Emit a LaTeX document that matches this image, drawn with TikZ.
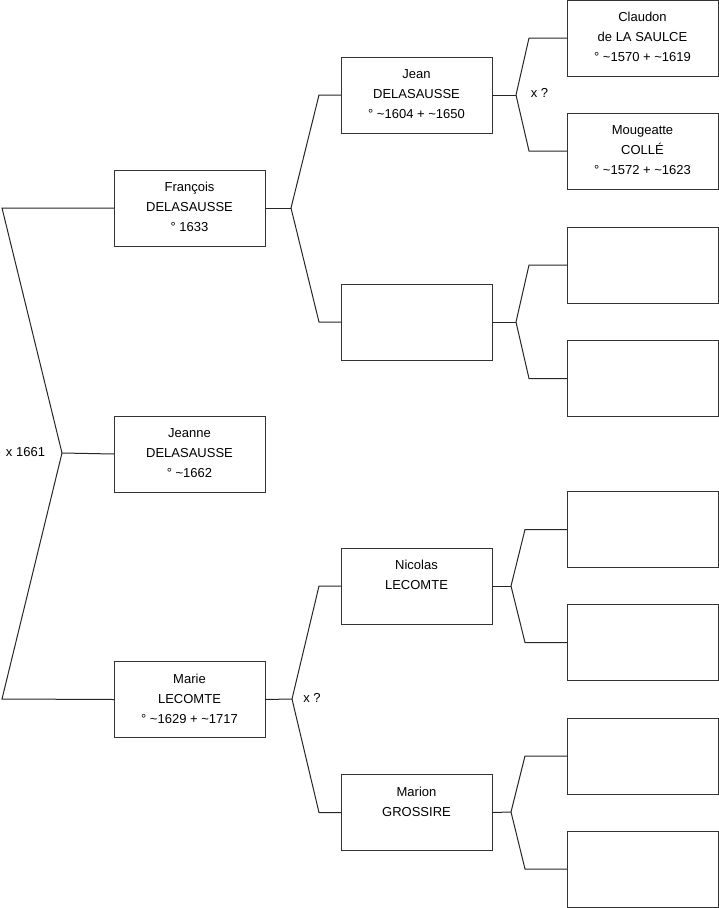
\documentclass[tikz,border=0pt]{standalone}
\usepackage{fontspec}
\setmainfont{Liberation Sans}
\begin{document}
\begin{tikzpicture}[x=1pt,y=-1pt,
  person/.style={draw=black!80, line width=1pt, minimum width=151pt, minimum height=76pt, inner sep=0pt, outer sep=0pt},
  ptext/.style={anchor=base, align=center, inner sep=0pt, font=\fontsize{13}{20}\selectfont},
  link/.style={draw=black!85, line width=1pt},
  lbl/.style={font=\fontsize{13}{16}\selectfont, inner sep=0pt}]
\useasboundingbox (0,0) rectangle (719,908);

% generation 1
\node[person] (fran) at (189.5,208) {};
\node[person] (jeanne) at (189.5,454) {};
\node[person] (marie) at (189.5,699.5) {};
% generation 2
\node[person] (jean) at (416.5,95) {};
\node[person] (blankp) at (416.5,322) {};
\node[person] (nicolas) at (416.5,586) {};
\node[person] (marion) at (416.5,812.5) {};
% generation 3
\node[person] (c1) at (642.5,38) {};
\node[person] (c2) at (642.5,151) {};
\node[person] (c3) at (642.5,265) {};
\node[person] (c4) at (642.5,378.5) {};
\node[person] (c5) at (642.5,529.5) {};
\node[person] (c6) at (642.5,642.5) {};
\node[person] (c7) at (642.5,756) {};
\node[person] (c8) at (642.5,869) {};

% texts (anchor = baseline of last line)
\node[ptext] (franT) at ([yshift=-61.5pt]fran.north) {François\\DELASAUSSE\\° 1633};
\node[ptext] (jeanneT) at ([yshift=-61.5pt]jeanne.north) {Jeanne\\DELASAUSSE\\° \textasciitilde1662};
\node[ptext] (marieT) at ([yshift=-61.5pt]marie.north) {Marie\\LECOMTE\\° \textasciitilde1629 + \textasciitilde1717};
\node[ptext] (jeanT) at ([yshift=-61.5pt]jean.north) {Jean\\DELASAUSSE\\° \textasciitilde1604 + \textasciitilde1650};
\node[ptext] (nicolasT) at ([yshift=-41.5pt]nicolas.north) {Nicolas\\LECOMTE};
\node[ptext] (marionT) at ([yshift=-41.5pt]marion.north) {Marion\\GROSSIRE};
\node[ptext] (c1T) at ([yshift=-61.5pt]c1.north) {Claudon\\de LA SAULCE\\° \textasciitilde1570 + \textasciitilde1619};
\node[ptext] (c2T) at ([yshift=-61.5pt]c2.north) {Mougeatte\\COLLÉ\\° \textasciitilde1572 + \textasciitilde1623};

% fork points
\coordinate (k0) at (62,453);
\coordinate (e0a) at (2,208);
\coordinate (e0b) at (2,699);
\coordinate (f1) at (291,208);
\coordinate (f2) at (292,699);
\coordinate (g1) at (516,95);
\coordinate (g2) at (516,322);
\coordinate (g3) at (511,586);
\coordinate (g4) at (511,812);

% connectors
\draw[link] (jeanne.west) -- (k0);
\draw[link] (k0) -- (e0a) -- (fran.west);
\draw[link] (k0) -- (e0b) -- (marie.west);

\draw[link] (fran.east) -- (f1);
\draw[link] (f1) -- ([xshift=-22pt]jean.west) -- (jean.west);
\draw[link] (f1) -- ([xshift=-22pt]blankp.west) -- (blankp.west);
\draw[link] (marie.east) -- (f2);
\draw[link] (f2) -- ([xshift=-22pt]nicolas.west) -- (nicolas.west);
\draw[link] (f2) -- ([xshift=-22pt]marion.west) -- (marion.west);

\draw[link] (jean.east) -- (g1);
\draw[link] (g1) -- ([xshift=-38pt]c1.west) -- (c1.west);
\draw[link] (g1) -- ([xshift=-38pt]c2.west) -- (c2.west);
\draw[link] (blankp.east) -- (g2);
\draw[link] (g2) -- ([xshift=-38pt]c3.west) -- (c3.west);
\draw[link] (g2) -- ([xshift=-38pt]c4.west) -- (c4.west);
\draw[link] (nicolas.east) -- (g3);
\draw[link] (g3) -- ([xshift=-42pt]c5.west) -- (c5.west);
\draw[link] (g3) -- ([xshift=-42pt]c6.west) -- (c6.west);
\draw[link] (marion.east) -- (g4);
\draw[link] (g4) -- ([xshift=-42pt]c7.west) -- (c7.west);
\draw[link] (g4) -- ([xshift=-42pt]c8.west) -- (c8.west);

% marriage labels
\node[lbl] (m0) at (25.5,452) {x 1661};
\node[lbl] (m1) at (539.5,93) {x ?};
\node[lbl] (m2) at (312,698) {x ?};
\end{tikzpicture}
\end{document}
